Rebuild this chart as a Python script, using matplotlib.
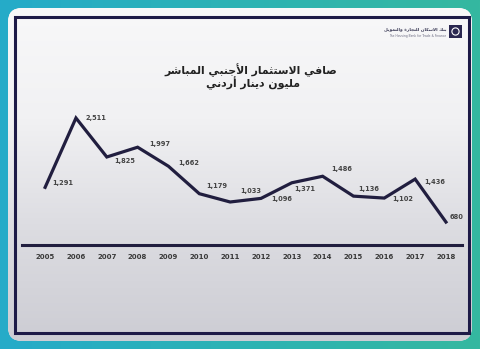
import numpy as np
import matplotlib
matplotlib.use('Agg')
import matplotlib.pyplot as plt
from matplotlib.patches import FancyBboxPatch, Rectangle, Circle

# =============================================================================
# Data
# =============================================================================

years = [2005, 2006, 2007, 2008, 2009, 2010, 2011,
         2012, 2013, 2014, 2015, 2016, 2017, 2018]
fdi = [1291, 2511, 1825, 1997, 1662, 1179, 1033,
       1096, 1371, 1486, 1136, 1102, 1436, 680]
value_labels = ['1,291', '2,511', '1,825', '1,997', '1,662', '1,179', '1,033',
                '1,096', '1,371', '1,486', '1,136', '1,102', '1,436', '680']

title_line1 = 'صافي الاستثمار الأجنبي المباشر'
title_line2 = 'مليون دينار أردني'
logo_text = 'بنك الاسكان للتجارة والتمويل'

# label offsets in pixels (dx, dy up)
label_off = [(18, 4), (20, 0), (18, -4), (22, 3), (20, 3), (17, 8), (21, 11),
             (21, -1), (13, -6), (19, 7), (15, 7), (18, -1), (20, -3), (11, 5)]

# =============================================================================
# Minimal arabic shaping (matplotlib has no complex text layout)
# =============================================================================

forms = {
    'ا': ('\ufe8d', '\ufe8e', None, None),
    'أ': ('\ufe83', '\ufe84', None, None),
    'ب': ('\ufe8f', '\ufe90', '\ufe91', '\ufe92'),
    'ت': ('\ufe95', '\ufe96', '\ufe97', '\ufe98'),
    'ث': ('\ufe99', '\ufe9a', '\ufe9b', '\ufe9c'),
    'ج': ('\ufe9d', '\ufe9e', '\ufe9f', '\ufea0'),
    'د': ('\ufea9', '\ufeaa', None, None),
    'ر': ('\ufead', '\ufeae', None, None),
    'س': ('\ufeb1', '\ufeb2', '\ufeb3', '\ufeb4'),
    'ش': ('\ufeb5', '\ufeb6', '\ufeb7', '\ufeb8'),
    'ص': ('\ufeb9', '\ufeba', '\ufebb', '\ufebc'),
    'ف': ('\ufed1', '\ufed2', '\ufed3', '\ufed4'),
    'ك': ('\ufed9', '\ufeda', '\ufedb', '\ufedc'),
    'ل': ('\ufedd', '\ufede', '\ufedf', '\ufee0'),
    'م': ('\ufee1', '\ufee2', '\ufee3', '\ufee4'),
    'ن': ('\ufee5', '\ufee6', '\ufee7', '\ufee8'),
    'ة': ('\ufe93', '\ufe94', None, None),
    'و': ('\ufeed', '\ufeee', None, None),
    'ي': ('\ufef1', '\ufef2', '\ufef3', '\ufef4'),
}
lam_alef = {'ا': ('\ufefb', '\ufefc'), 'أ': ('\ufef7', '\ufef8')}


def shape(text):
    out = []
    i = 0
    n = len(text)
    while i < n:
        c = text[i]
        if c not in forms:
            out.append(c)
            i += 1
            continue
        prev = text[i-1] if i > 0 else ''
        join_prev = prev in forms and forms[prev][2] is not None
        if c == 'ل' and i + 1 < n and text[i+1] in lam_alef:
            lig = lam_alef[text[i+1]]
            out.append(lig[1] if join_prev else lig[0])
            i += 2
            continue
        nxt = text[i+1] if i + 1 < n else ''
        join_next = forms[c][2] is not None and nxt in forms
        iso, fin, ini, med = forms[c]
        if join_prev and join_next:
            out.append(med)
        elif join_prev:
            out.append(fin)
        elif join_next:
            out.append(ini)
        else:
            out.append(iso)
        i += 1
    return ''.join(reversed(out))

# =============================================================================
# Plotting
# =============================================================================

W, H = 480, 349
fig = plt.figure(figsize=(4.8, 3.49), dpi=100)

# background: teal frame, card and navy border
bg = fig.add_axes([0, 0, 1, 1])
bg.set_xlim(0, W)
bg.set_ylim(H, 0)
bg.axis('off')
teal = np.linspace(0, 1, 200)[None, :]
bg.imshow(teal, extent=[0, W, H, 0], aspect='auto', zorder=0,
          cmap=matplotlib.colors.LinearSegmentedColormap.from_list('t', ['#25abc9', '#2db3b4', '#35b8a0']))
card = FancyBboxPatch((8, 8), 464, 333, boxstyle='round,pad=0,rounding_size=14',
                      facecolor='#ececef', edgecolor='none', zorder=1)
bg.add_patch(card)
grad = np.linspace(0, 1, 200)[:, None]
im = bg.imshow(grad, extent=[8, 472, 341, 8], aspect='auto', zorder=2,
               cmap=matplotlib.colors.LinearSegmentedColormap.from_list('g', ['#f8f8f9', '#f1f1f3', '#dcdce1', '#cdcdd4']))
im.set_clip_path(card)
bg.add_patch(Rectangle((15, 17), 454, 316, facecolor='none', edgecolor='#1d1a47', lw=2.2, zorder=3))
bg.set_xlim(0, W)
bg.set_ylim(H, 0)

# logo
bg.add_patch(Rectangle((449, 25), 13, 13, facecolor='#2a2750', edgecolor='none', zorder=4))
bg.add_patch(Circle((455.5, 31.5), 3.6, facecolor='none', edgecolor='white', lw=0.8, zorder=5))
bg.text(446, 29.5, shape(logo_text), fontsize=3.2, color='#3a3a55', ha='right', va='center',
        fontweight='bold', zorder=5)
bg.text(446, 35.5, 'The Housing Bank for Trade & Finance', fontsize=2.2, color='#6a6a80',
        ha='right', va='center', zorder=5)

# title
bg.text(251, 70, shape(title_line1), fontsize=7.8, fontweight='bold', color='#222222',
        ha='center', va='center', zorder=5)
bg.text(253, 83, shape(title_line2), fontsize=7.8, fontweight='bold', color='#222222',
        ha='center', va='center', zorder=5)

# chart
ax = fig.add_axes([22/W, 1 - 245/H, 440/W, 145/H])
ax.patch.set_alpha(0)
ax.plot(years, fdi, color='#211e3f', lw=2.3, solid_joinstyle='miter')
for x, y, s, (dx, dy) in zip(years, fdi, value_labels, label_off):
    ax.annotate(s, (x, y), xytext=(dx * 0.72, dy * 0.72), textcoords='offset points',
                ha='center', va='center', fontsize=4.8, fontweight='bold', color='#444444')
ax.set_xlim(2004.25, 2018.52)
ax.set_ylim(276, 2828)
for s in ['top', 'right', 'left']:
    ax.spines[s].set_visible(False)
ax.spines['bottom'].set_color('#211e3f')
ax.spines['bottom'].set_linewidth(2.2)
ax.set_yticks([])
ax.set_xticks(years)
ax.set_xticklabels([str(y) for y in years], fontsize=5, fontweight='bold', color='#3a3a3a')
ax.tick_params(axis='x', length=0, pad=6.5)

plt.savefig('out.png', dpi=100)
